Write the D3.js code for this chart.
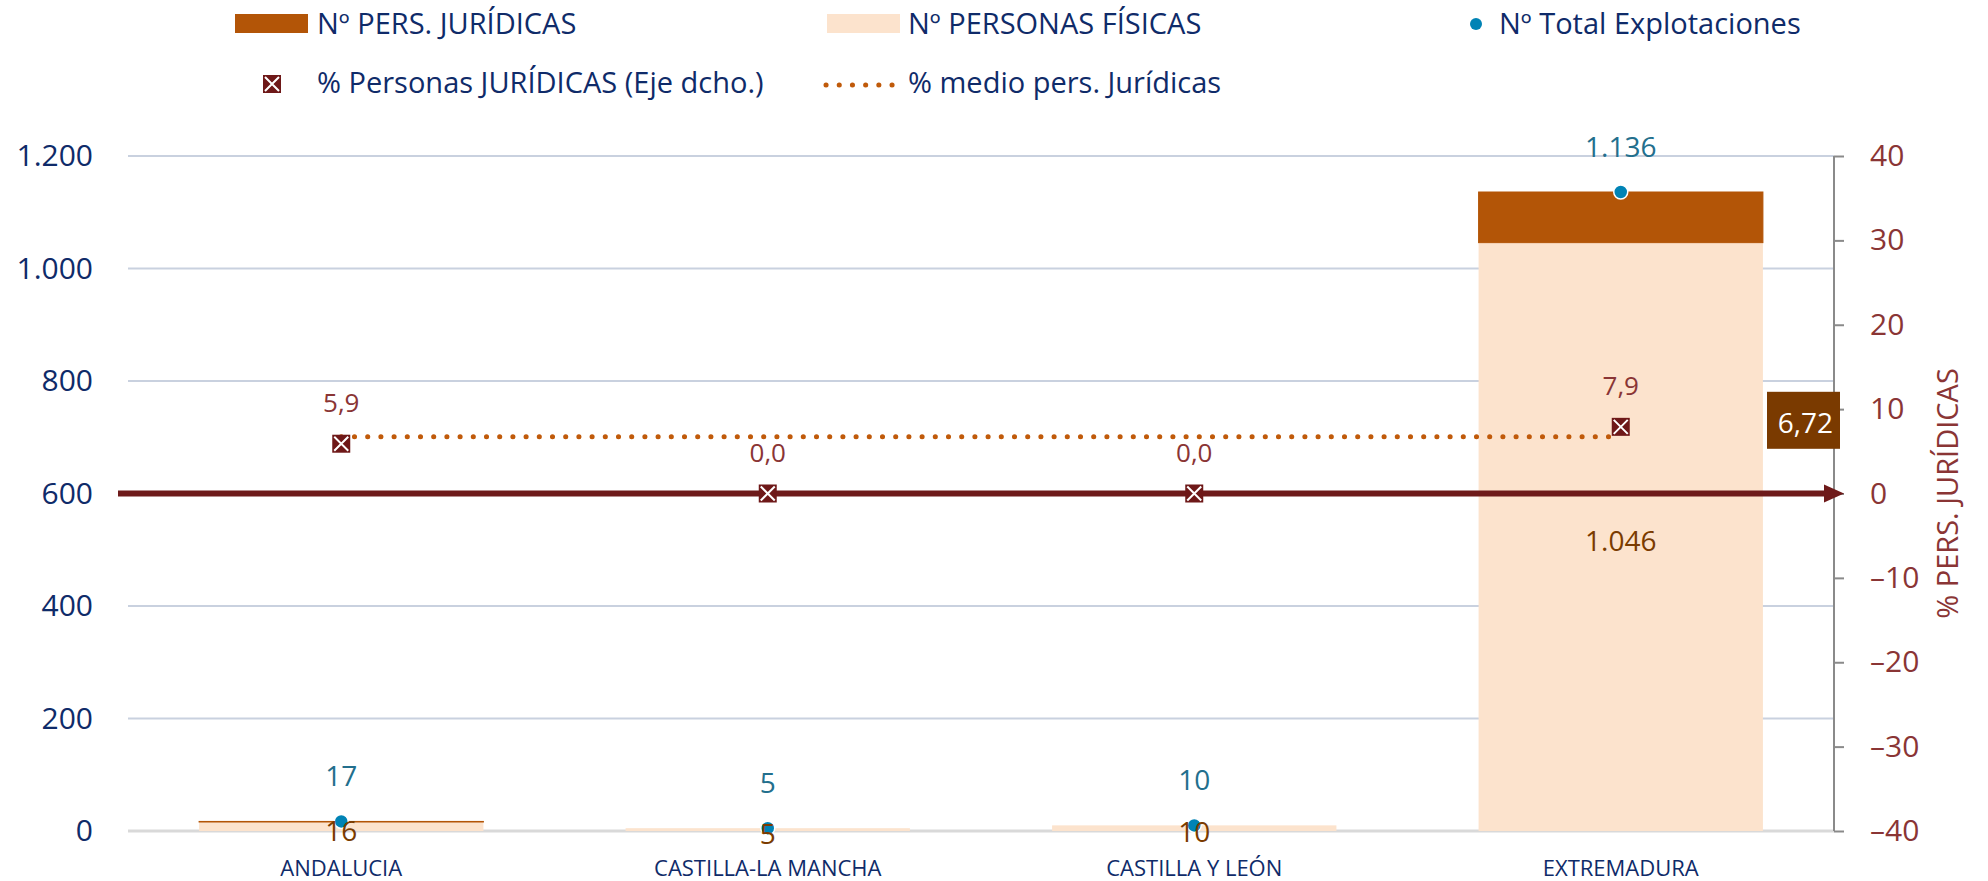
<!DOCTYPE html>
<html>
<head>
<meta charset="utf-8">
<script src="https://cdn.jsdelivr.net/npm/d3@7"></script>
<style>
  html, body { margin: 0; padding: 0; background: #fff; }
  svg { display: block; }
  text { font-family: "Open Sans", "Noto Sans", sans-serif; }
</style>
</head>
<body>
<svg width="1988" height="881"></svg>
<script>
// data
const categories = ["ANDALUCIA", "CASTILLA-LA MANCHA", "CASTILLA Y LEÓN", "EXTREMADURA"];
const fisicas = [16, 5, 10, 1046];
const juridicas = [1, 0, 0, 90];
const totales = [17, 5, 10, 1136];
const pctJuridicas = [5.9, 0.0, 0.0, 7.9];
const pctMedio = 6.72;
const leftTicks = [0, 200, 400, 600, 800, 1000, 1200];
const rightTicks = [-40, -30, -20, -10, 0, 10, 20, 30, 40];

const NAVY = "#0f2b69",
  MAROON = "#8a3535",
  C_JUR = "#b35507",
  C_FIS = "#fce3cd",
  C_DOT = "#0083b5",
  C_MARK = "#6e1818",
  C_AVG = "#c05a0a";

let svg = d3.select("svg");

const es = d3.formatLocale({ decimal: ",", thousands: ".", grouping: [3], currency: ["", " €"] });
const fmtInt = es.format(",");
const fmt1 = es.format(",.1f");
const fmt2 = es.format(",.2f");

const plotL = 128, plotR = 1834, plotT = 156, plotB = 831;

var x = d3.scaleBand().domain(categories).range([plotL, plotR]).paddingInner(1 / 3).paddingOuter(1 / 6);
var y = d3.scaleLinear().domain([0, 1200]).range([plotB, plotT]);
var yR = d3.scaleLinear().domain([-40, 40]).range([plotB, plotT]);

// gridlines
svg.append("g")
  .selectAll("line")
  .data(leftTicks.filter((d) => d > 0))
  .enter()
  .append("line")
  .attr("x1", plotL)
  .attr("x2", plotR)
  .attr("y1", (d) => y(d))
  .attr("y2", (d) => y(d))
  .style("stroke", "#c9d1df")
  .style("stroke-width", 2);

svg.append("line")
  .attr("x1", plotL).attr("x2", plotR)
  .attr("y1", y(0)).attr("y2", y(0))
  .style("stroke", "#d9d9d9")
  .style("stroke-width", 3);

// left axis (labels only)
var axL = svg.append("g")
  .attr("transform", "translate(" + plotL + ",0)")
  .call(d3.axisLeft(y).tickValues(leftTicks).tickSize(0).tickPadding(35).tickFormat(fmtInt));
axL.select(".domain").remove();
axL.selectAll("text")
  .style("font-family", '"Open Sans", sans-serif')
  .style("font-size", "30px")
  .style("fill", NAVY);

// right axis
var axR = svg.append("g")
  .attr("transform", "translate(" + plotR + ",0)")
  .call(d3.axisRight(yR).tickValues(rightTicks).tickSize(10).tickPadding(26)
    .tickFormat((d) => (d < 0 ? "–" + Math.abs(d) : d)));
axR.select(".domain").style("stroke", "#8a8a8a").style("stroke-width", 2)
  .attr("d", "M0," + plotT + "V" + plotB);
axR.selectAll(".tick line").style("stroke", "#8a8a8a").style("stroke-width", 2);
axR.selectAll("text")
  .style("font-family", '"Open Sans", sans-serif')
  .style("font-size", "30px")
  .style("fill", MAROON);

svg.append("text")
  .attr("transform", "translate(1958," + (plotT + plotB) / 2 + ") rotate(-90)")
  .attr("text-anchor", "middle")
  .style("font-size", "29px")
  .style("fill", MAROON)
  .text("% PERS. JURÍDICAS");

// category labels
svg.append("g")
  .selectAll("text")
  .data(categories)
  .enter()
  .append("text")
  .attr("x", (d) => x(d) + x.bandwidth() / 2)
  .attr("y", 876)
  .attr("text-anchor", "middle")
  .style("font-size", "22px")
  .style("fill", NAVY)
  .text((d) => d);

// stacked bars
var bars = svg.append("g");
bars.selectAll("rect.fis")
  .data(categories)
  .enter()
  .append("rect")
  .attr("class", "fis")
  .attr("x", (d) => x(d))
  .attr("width", x.bandwidth())
  .attr("y", (d, i) => y(fisicas[i]))
  .attr("height", (d, i) => y(0) - y(fisicas[i]))
  .style("fill", C_FIS);

bars.selectAll("rect.jur")
  .data(categories)
  .enter()
  .append("rect")
  .attr("class", "jur")
  .attr("x", (d) => x(d))
  .attr("width", x.bandwidth())
  .attr("y", (d, i) => y(fisicas[i] + juridicas[i]))
  .attr("height", (d, i) => y(fisicas[i]) - y(fisicas[i] + juridicas[i]))
  .style("fill", C_JUR)
  .style("stroke", (d, i) => (juridicas[i] > 0 ? C_JUR : "none"))
  .style("stroke-width", 1);

// zero line of the right axis, with arrow
svg.append("line")
  .attr("x1", 118)
  .attr("x2", plotR - 6)
  .attr("y1", yR(0))
  .attr("y2", yR(0))
  .style("stroke", "#6e1a1a")
  .style("stroke-width", 6);
svg.append("path")
  .attr("d", "M" + (plotR - 10) + "," + (yR(0) - 9) + "L" + (plotR + 10) + "," + yR(0) + "L" + (plotR - 10) + "," + (yR(0) + 9) + "Z")
  .style("fill", "#6e1a1a");

// average line
svg.append("line")
  .attr("x1", x(categories[0]) + x.bandwidth() / 2)
  .attr("x2", x(categories[categories.length - 1]) + x.bandwidth() / 2)
  .attr("y1", yR(pctMedio))
  .attr("y2", yR(pctMedio))
  .style("stroke", C_AVG)
  .style("stroke-width", 5)
  .style("stroke-linecap", "round")
  .style("stroke-dasharray", "0.1 13.1");

// average value box
var box = svg.append("g").attr("transform", "translate(" + (plotR - 67) + "," + (yR(pctMedio) - 45) + ")");
box.append("rect").attr("width", 73).attr("height", 57).style("fill", "#7a3a00");
box.append("text")
  .attr("x", 66)
  .attr("y", 41)
  .attr("text-anchor", "end")
  .style("font-size", "28px")
  .style("fill", "#fff")
  .text(fmt2(pctMedio));

// % markers (square with X)
function xMarker(sel, s) {
  sel.append("rect")
    .attr("x", -s / 2).attr("y", -s / 2)
    .attr("width", s).attr("height", s)
    .style("fill", C_MARK);
  sel.append("path")
    .attr("d", "M" + (-s / 2 + 2) + "," + (-s / 2 + 2) + "L" + (s / 2 - 2) + "," + (s / 2 - 2) +
      "M" + (s / 2 - 2) + "," + (-s / 2 + 2) + "L" + (-s / 2 + 2) + "," + (s / 2 - 2))
    .style("stroke", "#fff")
    .style("stroke-width", 2);
}

var marks = svg.append("g")
  .selectAll("g")
  .data(categories)
  .enter()
  .append("g")
  .attr("transform", (d, i) => "translate(" + (x(d) + x.bandwidth() / 2) + "," + yR(pctJuridicas[i]) + ")");
xMarker(marks, 18);

svg.append("g")
  .selectAll("text")
  .data(categories)
  .enter()
  .append("text")
  .attr("x", (d) => x(d) + x.bandwidth() / 2)
  .attr("y", (d, i) => yR(pctJuridicas[i]) - 32)
  .attr("text-anchor", "middle")
  .style("font-size", "26px")
  .style("fill", MAROON)
  .text((d, i) => fmt1(pctJuridicas[i]));

// total dots
svg.append("g")
  .selectAll("circle")
  .data(categories)
  .enter()
  .append("circle")
  .attr("cx", (d) => x(d) + x.bandwidth() / 2)
  .attr("cy", (d, i) => y(totales[i]))
  .attr("r", 7)
  .style("fill", C_DOT)
  .style("stroke", "#fff")
  .style("stroke-width", 1.5);

svg.append("g")
  .selectAll("text")
  .data(categories)
  .enter()
  .append("text")
  .attr("x", (d) => x(d) + x.bandwidth() / 2)
  .attr("y", (d, i) => y(totales[i]) - 35)
  .attr("text-anchor", "middle")
  .style("font-size", "28px")
  .style("fill", "#236f8d")
  .text((d, i) => fmtInt(totales[i]));

// fisicas labels, centred in their bar
svg.append("g")
  .selectAll("text")
  .data(categories)
  .enter()
  .append("text")
  .attr("x", (d) => x(d) + x.bandwidth() / 2)
  .attr("y", (d, i) => (y(0) + y(fisicas[i])) / 2 + 14)
  .attr("text-anchor", "middle")
  .style("font-size", "28px")
  .style("fill", "#7a3b00")
  .text((d, i) => fmtInt(fisicas[i]));

// legend
var legend = svg.append("g").style("font-size", "29px").style("fill", NAVY);

legend.append("rect").attr("x", 235).attr("y", 14).attr("width", 73).attr("height", 19).style("fill", C_JUR);
legend.append("text").attr("x", 317).attr("y", 34).text("Nº PERS. JURÍDICAS");

legend.append("rect").attr("x", 827).attr("y", 14).attr("width", 73).attr("height", 19).style("fill", C_FIS);
legend.append("text").attr("x", 908).attr("y", 34).text("Nº PERSONAS FÍSICAS");

legend.append("circle").attr("cx", 1476).attr("cy", 24).attr("r", 6).style("fill", C_DOT);
legend.append("text").attr("x", 1499).attr("y", 34).text("Nº Total Explotaciones");

var lm = legend.append("g").attr("transform", "translate(272,84)");
xMarker(lm, 18);
legend.append("text").attr("x", 317).attr("y", 93).text("% Personas JURÍDICAS (Eje dcho.)");

legend.append("line")
  .attr("x1", 826).attr("x2", 896)
  .attr("y1", 85).attr("y2", 85)
  .style("stroke", C_AVG)
  .style("stroke-width", 5)
  .style("stroke-linecap", "round")
  .style("stroke-dasharray", "0.1 13.1");
legend.append("text").attr("x", 908).attr("y", 93).text("% medio pers. Jurídicas");
</script>
</body>
</html>
